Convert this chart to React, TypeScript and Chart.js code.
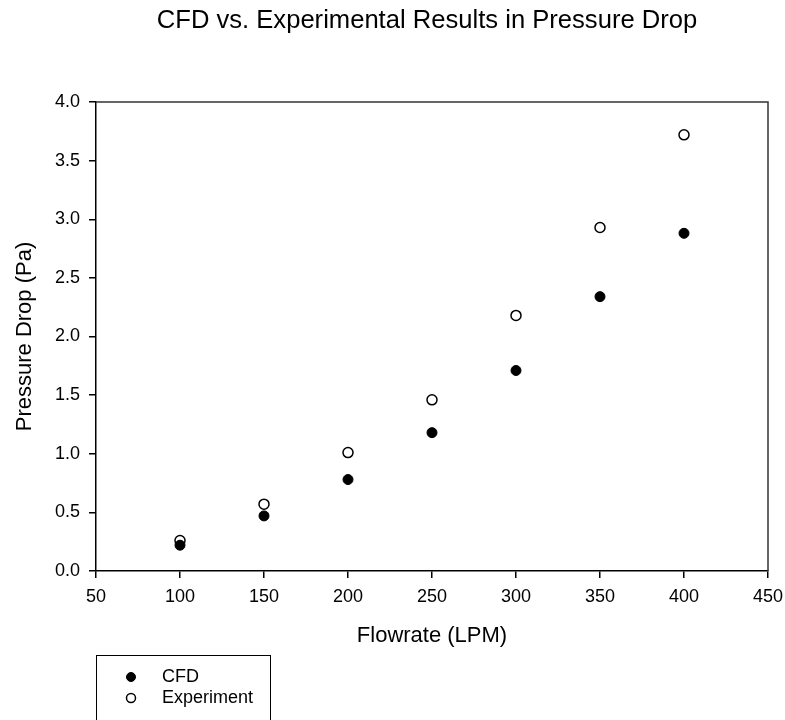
import React, { useEffect, useRef } from "react";
import { Chart, registerables } from "chart.js";

Chart.register(...registerables);

const titleText = "CFD vs. Experimental Results in Pressure Drop";
const xTitle = "Flowrate (LPM)";
const yTitle = "Pressure Drop (Pa)";
const flowrates = [100, 150, 200, 250, 300, 350, 400];
const cfdValues = [0.22, 0.47, 0.78, 1.18, 1.71, 2.34, 2.88];
const expValues = [0.26, 0.57, 1.01, 1.46, 2.18, 2.93, 3.72];
const seriesNames = ["CFD", "Experiment"];

const FONT = "'Liberation Sans', Arial, sans-serif";

const framePlugin = {
  id: "frame",
  afterDraw(chart: any) {
    const { ctx, chartArea } = chart;
    ctx.save();
    ctx.strokeStyle = "#333";
    ctx.lineWidth = 1.5;
    ctx.beginPath();
    ctx.moveTo(chartArea.left, chartArea.top);
    ctx.lineTo(chartArea.right, chartArea.top);
    ctx.lineTo(chartArea.right, chartArea.bottom);
    ctx.stroke();
    ctx.restore();
  },
};

const titlePlugin = {
  id: "customTitle",
  afterDraw(chart: any) {
    const { ctx } = chart;
    ctx.save();
    ctx.fillStyle = "#000";
    ctx.font = `25.6px ${FONT}`;
    ctx.textAlign = "center";
    ctx.textBaseline = "alphabetic";
    ctx.fillText(titleText, 427, 28);
    ctx.restore();
  },
};

const legendPlugin = {
  id: "customLegend",
  afterDraw(chart: any) {
    const { ctx } = chart;
    ctx.save();
    ctx.strokeStyle = "#000";
    ctx.lineWidth = 1;
    ctx.strokeRect(96.5, 655.5, 174, 90);
    const rows = [677, 698];
    chart.data.datasets.forEach((ds: any, i: number) => {
      const y = rows[i];
      ctx.beginPath();
      ctx.arc(131, y, 4.5, 0, Math.PI * 2);
      ctx.fillStyle = ds.pointBackgroundColor;
      ctx.fill();
      ctx.lineWidth = ds.pointBorderWidth;
      ctx.strokeStyle = ds.pointBorderColor;
      ctx.stroke();
      ctx.fillStyle = "#000";
      ctx.font = `18px ${FONT}`;
      ctx.textAlign = "left";
      ctx.textBaseline = "middle";
      ctx.fillText(ds.label, 162, y);
    });
    ctx.restore();
  },
};

export default function App() {
  const ref = useRef<HTMLCanvasElement>(null);

  useEffect(() => {
    if (!ref.current) return;
    const chart = new Chart(ref.current, {
      type: "scatter",
      data: {
        datasets: [
          {
            label: seriesNames[0],
            data: flowrates.map((x, i) => ({ x, y: cfdValues[i] })),
            pointRadius: 5,
            pointBackgroundColor: "#000",
            pointBorderColor: "#000",
            pointBorderWidth: 1,
            showLine: false,
          },
          {
            label: seriesNames[1],
            data: flowrates.map((x, i) => ({ x, y: expValues[i] })),
            pointRadius: 5,
            pointBackgroundColor: "#fff",
            pointBorderColor: "#000",
            pointBorderWidth: 1.5,
            showLine: false,
          },
        ],
      },
      options: {
        responsive: false,
        animation: false,
        layout: { padding: { top: 102, right: 17, bottom: 71, left: 0 } },
        plugins: {
          legend: { display: false },
          title: { display: false },
          tooltip: { enabled: false },
        },
        scales: {
          x: {
            type: "linear",
            min: 50,
            max: 450,
            afterFit: (s: any) => {
              s.height = 78;
              s.paddingLeft = 0;
              s.paddingRight = 0;
            },
            ticks: {
              stepSize: 50,
              color: "#000",
              padding: 8,
              font: { family: FONT, size: 18 },
              maxRotation: 0,
            },
            grid: {
              display: true,
              drawOnChartArea: false,
              drawTicks: true,
              tickLength: 7,
              color: "#000",
              lineWidth: 1.5,
            },
            border: { display: true, color: "#000", width: 1.5 },
            title: {
              display: true,
              text: xTitle,
              color: "#000",
              font: { family: FONT, size: 22 },
              padding: { top: 0, bottom: 0 },
            },
          },
          y: {
            type: "linear",
            min: 0,
            max: 4,
            afterFit: (s: any) => {
              s.width = 96;
              s.paddingTop = 0;
              s.paddingBottom = 0;
            },
            ticks: {
              stepSize: 0.5,
              color: "#000",
              padding: 9,
              font: { family: FONT, size: 18 },
              callback: (v: any) => Number(v).toFixed(1),
            },
            grid: {
              display: true,
              drawOnChartArea: false,
              drawTicks: true,
              tickLength: 7,
              color: "#000",
              lineWidth: 1.5,
            },
            border: { display: true, color: "#000", width: 1.5 },
            title: {
              display: true,
              text: yTitle,
              color: "#000",
              font: { family: FONT, size: 22 },
              padding: { top: 12, bottom: 0 },
            },
          },
        },
      },
      plugins: [framePlugin, titlePlugin, legendPlugin],
    });
    return () => chart.destroy();
  }, []);

  return (
    <div style={{ position: "fixed", left: 0, top: 0, width: 785, height: 720, background: "#fff" }}>
      <canvas ref={ref} width={785} height={720} />
    </div>
  );
}
